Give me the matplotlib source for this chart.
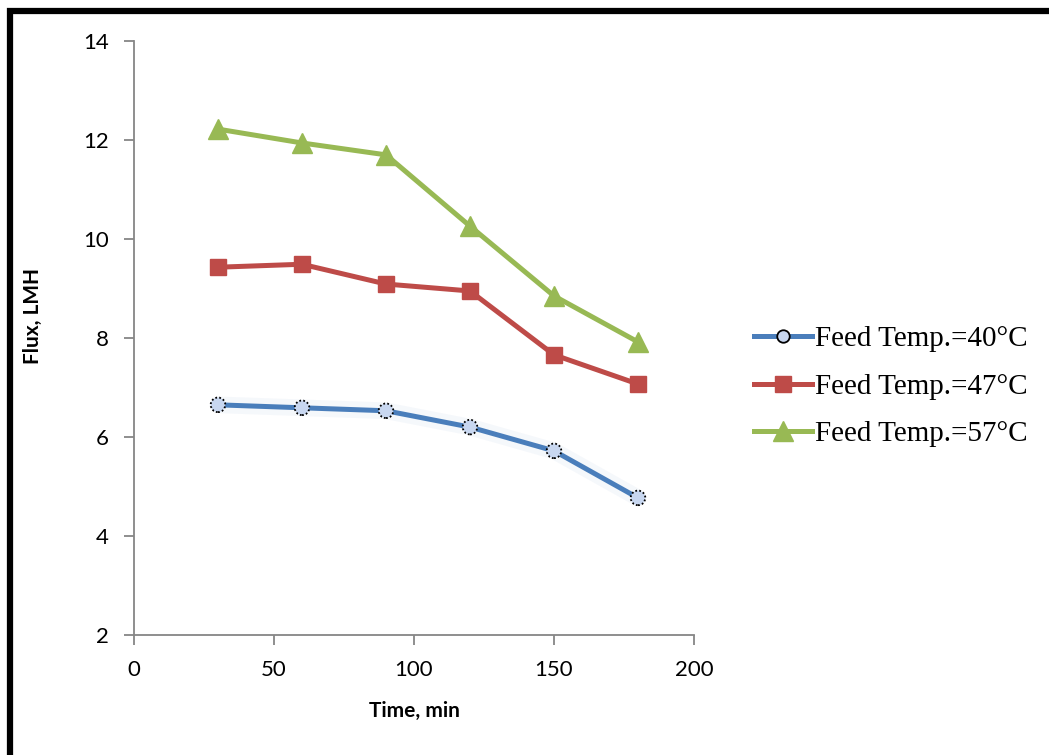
import matplotlib
matplotlib.use("Agg")
import matplotlib.pyplot as plt
from matplotlib.patches import Rectangle
from matplotlib.lines import Line2D

time_min = [30, 60, 90, 120, 150, 180]
flux_40 = [6.65, 6.59, 6.53, 6.20, 5.72, 4.77]
flux_47 = [9.43, 9.49, 9.09, 8.95, 7.66, 7.07]
flux_57 = [12.22, 11.94, 11.70, 10.26, 8.85, 7.92]
labels = ["Feed Temp.=40°C", "Feed Temp.=47°C", "Feed Temp.=57°C"]
x_ticks = [0, 50, 100, 150, 200]
y_ticks = [2, 4, 6, 8, 10, 12, 14]

blue = "#4a7ebb"
red = "#be4b48"
green = "#98b954"
gray = "#868686"

fig = plt.figure(figsize=(10.49, 7.55), dpi=100)
ax = fig.add_axes([134/1049, 1-635/755, (694-134)/1049, (635-41)/755])

# outer border
fig.patches.append(Rectangle((9.5/1049, 1-1060/755), 1100/1049, (1060-10.5)/755,
                             transform=fig.transFigure, fill=False, lw=4.5,
                             edgecolor="black", zorder=0))

# blue line with soft glow
ax.plot(time_min, flux_40, color=blue, lw=12, alpha=0.05, solid_capstyle="round", zorder=1)
ax.plot(time_min, flux_40, color=blue, lw=3.6, zorder=2)
ax.scatter(time_min, flux_40, s=110, facecolor="#c8d7f0", edgecolors="black",
           linewidths=1.3, linestyle=(0, (1, 1.2)), zorder=3)

ax.plot(time_min, flux_47, color=red, lw=3.6, marker="s", ms=11, mfc=red, mec=red, zorder=2)
ax.plot(time_min, flux_57, color=green, lw=3.6, marker="^", ms=14, mfc=green, mec=green, zorder=2)

ax.set_xlim(0, 200)
ax.set_ylim(2, 14)
ax.set_xticks(x_ticks)
ax.set_yticks(y_ticks)
for s in ["top", "right"]:
    ax.spines[s].set_visible(False)
for s in ["left", "bottom"]:
    ax.spines[s].set_color(gray)
    ax.spines[s].set_linewidth(1.3)
ax.tick_params(axis="both", direction="out", length=7, width=1.3, color=gray,
               labelsize=16, pad=11)
for lab in ax.get_xticklabels() + ax.get_yticklabels():
    lab.set_family("Lato")

ax.set_xlabel("Time, min", fontsize=15, fontweight="bold", family="Lato")
ax.set_ylabel("Flux, LMH", fontsize=15, fontweight="bold", family="Lato")
ax.xaxis.set_label_coords((414-134)/560, -(711-635)/594, transform=ax.transAxes)
ax.yaxis.set_label_coords(-(134-33)/560, (635-316)/594, transform=ax.transAxes)
ax.xaxis.label.set_va("center")
ax.yaxis.label.set_va("center")

handles = [
    Line2D([], [], color=blue, lw=3.6, marker="o", ms=9, mfc="#c8d7f0", mec="black", mew=1.3),
    Line2D([], [], color=red, lw=3.6, marker="s", ms=11, mfc=red, mec=red),
    Line2D([], [], color=green, lw=3.6, marker="^", ms=14, mfc=green, mec=green),
]
fig.legend(handles, labels, loc="upper left", bbox_to_anchor=(754/1049, 1-326/755),
           frameon=False, prop={"family": "Liberation Serif", "size": 21},
           handlelength=2.0, handletextpad=0.1, labelspacing=0.72, borderaxespad=0,
           borderpad=0)

fig.savefig("out.png", dpi=100)
